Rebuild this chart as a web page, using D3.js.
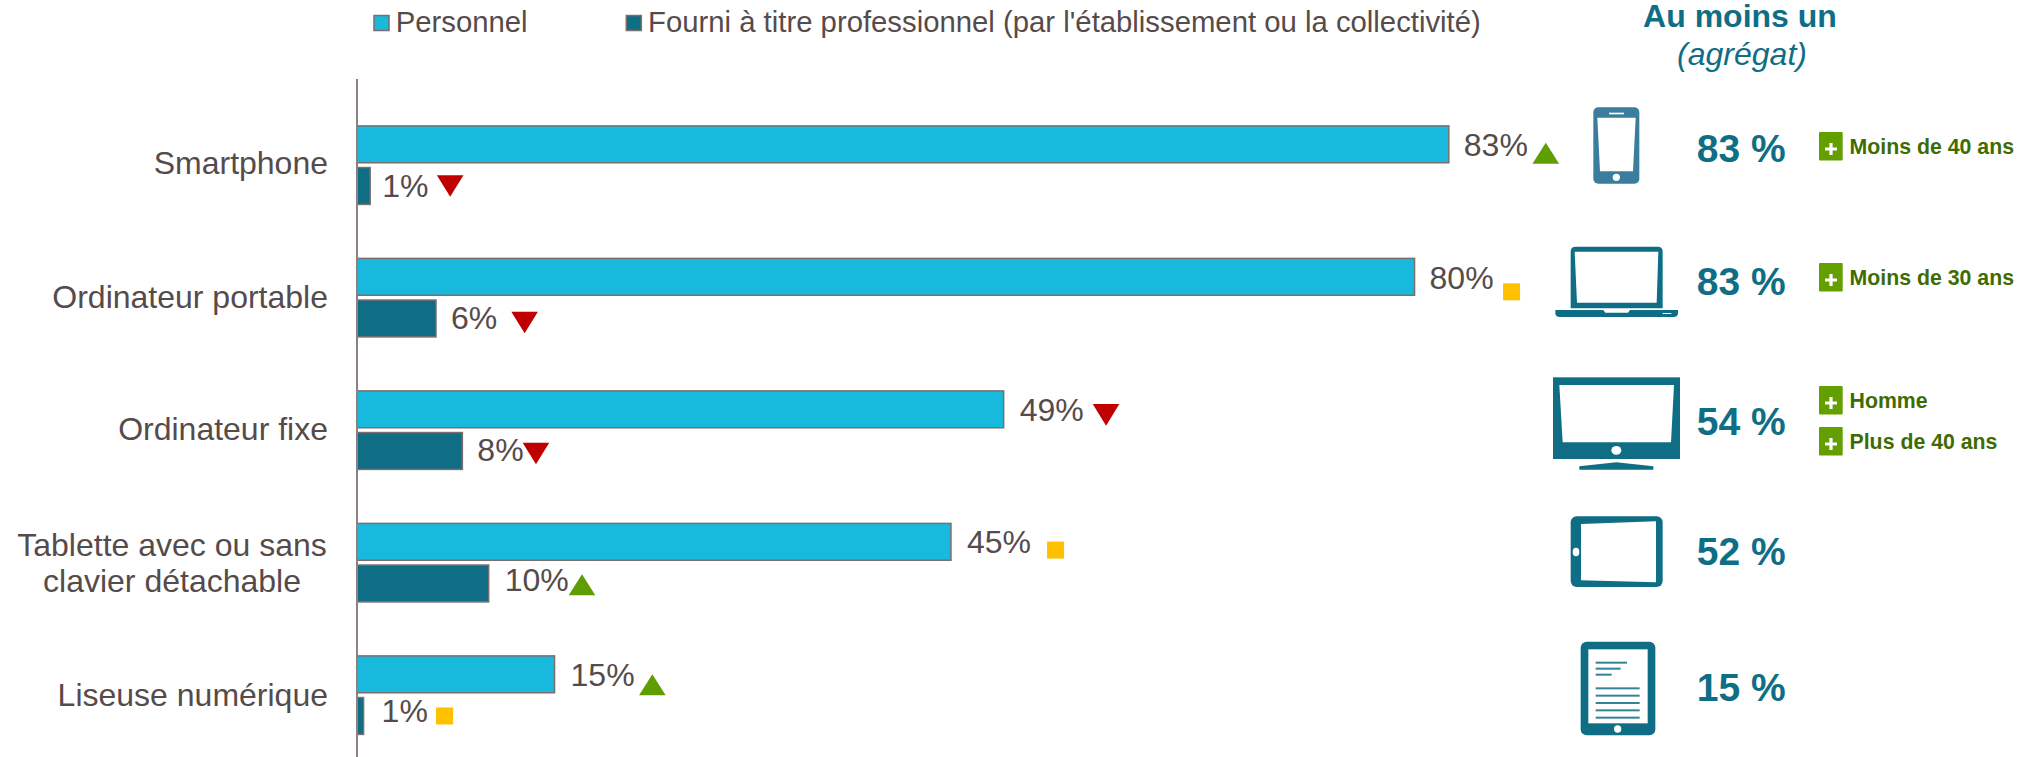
<!DOCTYPE html>
<html lang="fr">
<head>
<meta charset="utf-8">
<script src="https://cdn.jsdelivr.net/npm/d3@7"></script>
<style>
html,body{margin:0;padding:0;background:#fff}
svg{display:block}
text{font-family:"Liberation Sans",Arial,sans-serif}
</style>
</head>
<body>
<svg id="chart" width="2026" height="757"></svg>
<script>
// ---- data ----
const categories = ["Smartphone","Ordinateur portable","Ordinateur fixe","Tablette avec ou sans\nclavier détachable","Liseuse numérique"];
const seriesNames = ["Personnel","Fourni à titre professionnel (par l'établissement ou la collectivité)"];
const personalValues = [82.9,80.3,49.1,45.1,15];
const professionalValues = [1,6,8,10,0.5];
const personalLabels = ["83%","80%","49%","45%","15%"];
const professionalLabels = ["1%","6%","8%","10%","1%"];
const personalTrends = ["up","flat","down","flat","up"];
const professionalTrends = ["down","down","down","up","flat"];
const aggregateValues = ["83 %","83 %","54 %","52 %","15 %"];
const overRepresented = [["Moins de 40 ans"],["Moins de 30 ans"],["Homme","Plus de 40 ans"],[],[]];
const aggregateTitle = "Au moins un";
const aggregateSubtitle = "(agrégat)";

// ---- layout and styles, kept apart from the values ----
const C = {text:"#564B4B", light:"#17B9DC", dark:"#0F6E85", phone:"#3A7D9C", border:"#7A6E6E", axis:"#8C8080",
  up:"#5F9E00", down:"#C00000", flat:"#FFC000", tag:"#639F00", tagText:"#3F6C00"};
const layout = {
  personalMarkerDx:[97,97,102.4,104.6,97.8], personalMarkerDy:[9,15,5.5,8.25,10.5],
  professionalMarkerDx:[80,88.6,73.6,93.3,81], professionalMarkerDy:[0,4,2.5,1.25,0],
  personalLabelDx:[15,15,16,16,16], personalLabelDy:[12,12,11.5,11.25,11.5],
  professionalLabelDx:[12,15,15,16,18], professionalLabelDy:[11,11,10.5,7.25,6],
  categoryDy:[-2.5,-1.5,-2,0,-0.5],
  aggregateBaseline:[161.7,295,435,565,701],
  tagRows:[[{box:132,base:154}],[{box:263,base:285}],[{box:386,base:407.7},{box:427,base:449}],[],[]]
};

const svg = d3.select("#chart");

// ---- scales ----
const x = d3.scaleLinear().domain([0,100]).range([357,1674]);
const y = d3.scaleBand().domain(categories).range([99.4,761.9]);
const ySeries = d3.scaleBand().domain(["personal","professional"]).range([26.5,105]).paddingInner(0.115);

// ---- bars, labels, markers ----
function marker(sel, type, cx, cy){
  if(type==="up") sel.append("path").attr("d",`M${cx-13.3},${cy+10.5}L${cx},${cy-10.5}L${cx+13.3},${cy+10.5}Z`).attr("fill",C.up);
  else if(type==="down") sel.append("path").attr("d",`M${cx-13.3},${cy-10.8}L${cx+13.3},${cy-10.8}L${cx},${cy+10.8}Z`).attr("fill",C.down);
  else sel.append("rect").attr("x",cx-8.5).attr("y",cy-8.5).attr("width",17).attr("height",17).attr("fill",C.flat);
}
const series = [
  {key:"personal", values:personalValues, labels:personalLabels, trends:personalTrends, fill:C.light,
   mdx:layout.personalMarkerDx, mdy:layout.personalMarkerDy, ldx:layout.personalLabelDx, ldy:layout.personalLabelDy},
  {key:"professional", values:professionalValues, labels:professionalLabels, trends:professionalTrends, fill:C.dark,
   mdx:layout.professionalMarkerDx, mdy:layout.professionalMarkerDy, ldx:layout.professionalLabelDx, ldy:layout.professionalLabelDy}
];
const plot = svg.append("g");
series.forEach(s=>{
  categories.forEach((c,i)=>{
    const top = y(c)+ySeries(s.key), h = ySeries.bandwidth(), mid = top+h/2, end = x(s.values[i]);
    plot.append("rect").attr("x",x(0)).attr("y",top).attr("width",end-x(0)).attr("height",h)
      .attr("fill",s.fill).attr("stroke",C.border).attr("stroke-width",1.5);
    plot.append("text").attr("x",end+s.ldx[i]).attr("y",mid+s.ldy[i]).attr("font-size",32).attr("fill",C.text).text(s.labels[i]);
    marker(plot,s.trends[i],end+s.mdx[i],mid+s.mdy[i]);
  });
});

// ---- category axis ----
const axis = svg.append("g").attr("transform",`translate(${x(0)},0)`).call(d3.axisLeft(y).tickSize(0).tickPadding(29));
axis.select(".domain").remove();
axis.selectAll(".tick text").each(function(d,i){
  const t = d3.select(this), lines = d.split("\n"), dy = layout.categoryDy[i];
  t.text(null).attr("font-size",32).attr("fill",C.text).attr("font-family",'"Liberation Sans",Arial,sans-serif').attr("dy",null);
  if(lines.length===1){ t.attr("text-anchor","end").attr("x",-29).attr("y",11+dy); t.append("tspan").text(lines[0]); }
  else{ t.attr("text-anchor","middle").attr("x",172-x(0)).attr("y",-7+dy);
    lines.forEach((l,k)=>t.append("tspan").attr("x",172-x(0)).attr("dy",k?36:0).text(l)); }
});
svg.append("line").attr("x1",x(0)).attr("x2",x(0)).attr("y1",79).attr("y2",757).attr("stroke",C.axis).attr("stroke-width",2);

// ---- legend ----
const lg = svg.append("g");
[{bx:374,tx:395.7,fill:C.light,fs:29.3},{bx:626.3,tx:648,fill:C.dark,fs:29.3}].forEach((l,i)=>{
  lg.append("rect").attr("x",l.bx).attr("y",15.5).attr("width",15).attr("height",15).attr("fill",l.fill).attr("stroke",C.border).attr("stroke-width",1.5);
  lg.append("text").attr("x",l.tx).attr("y",31.7).attr("font-size",l.fs).attr("fill",C.text).text(seriesNames[i]);
});

// ---- aggregate column ----
svg.append("text").attr("x",1740).attr("y",27).attr("text-anchor","middle").attr("font-size",32).attr("font-weight","bold").attr("fill",C.dark).text(aggregateTitle);
svg.append("text").attr("x",1742).attr("y",64.5).attr("text-anchor","middle").attr("font-size",32).attr("font-style","italic").attr("fill",C.dark).text(aggregateSubtitle);
aggregateValues.forEach((v,i)=>{
  svg.append("text").attr("x",1696.7).attr("y",layout.aggregateBaseline[i]).attr("font-size",39).attr("font-weight","bold").attr("fill",C.dark).text(v);
});

// ---- over-represented tags ----
overRepresented.forEach((tags,i)=>{
  tags.forEach((t,k)=>{
    const r = layout.tagRows[i][k], g = svg.append("g");
    g.append("rect").attr("x",1819).attr("y",r.box).attr("width",23.7).attr("height",28.5).attr("rx",1).attr("fill",C.tag);
    g.append("path").attr("d","M1825,"+(r.box+17)+"h12M1831,"+(r.box+11)+"v12").attr("stroke","#fff").attr("stroke-width",3.2);
    g.append("text").attr("x",1849.5).attr("y",r.base).attr("font-size",21.3).attr("font-weight","bold").attr("fill",C.tagText).text(t);
  });
});

// ---- device pictograms, traced in a 3x local frame ----
const top3 = svg.append("g").attr("transform","translate(1500,0) scale(0.33333)");
const low3 = svg.append("g").attr("transform","translate(1500,370) scale(0.33333)");
// phone
top3.append("rect").attr("x",280).attr("y",322).attr("width",138).attr("height",229).attr("rx",15).attr("fill",C.phone);
top3.append("path").attr("d","M292,353H407L399,514H300Z").attr("fill","#fff");
top3.append("circle").attr("cx",349).attr("cy",532).attr("r",11).attr("fill","#fff");
top3.append("rect").attr("x",327).attr("y",338).attr("width",45).attr("height",5).attr("fill","#fff");
// laptop
top3.append("path").attr("d","M212,925V755Q212,740 227,740H473Q488,740 488,755V925Z").attr("fill",C.dark);
top3.append("path").attr("d","M224,755H475L470,908H231Z").attr("fill","#fff");
top3.append("path").attr("d","M166,930H534V940Q534,951 520,951H180Q166,951 166,940Z").attr("fill",C.dark);
top3.append("path").attr("d","M310,930H390L384,938H316Z").attr("fill","#fff");
top3.append("rect").attr("x",488).attr("y",939).attr("width",26).attr("height",3).attr("fill","#fff");
// monitor
low3.append("rect").attr("x",159).attr("y",22).attr("width",381).attr("height",245).attr("fill",C.dark);
low3.append("path").attr("d","M178,45H522L513,217H188Z").attr("fill","#fff");
low3.append("ellipse").attr("cx",349).attr("cy",241).attr("rx",15).attr("ry",13).attr("fill","#fff");
low3.append("path").attr("d","M238,289L349,277L460,289V299H238Z").attr("fill",C.dark);
// tablet
low3.append("rect").attr("x",212).attr("y",439).attr("width",276).attr("height",212).attr("rx",18).attr("fill",C.dark);
low3.append("path").attr("d","M243,462L468,454V637L243,631Z").attr("fill","#fff");
low3.append("ellipse").attr("cx",228).attr("cy",546).attr("rx",10).attr("ry",13).attr("fill","#fff");
// e-reader
low3.append("rect").attr("x",242).attr("y",815).attr("width",224).attr("height",281).attr("rx",18).attr("fill",C.dark);
low3.append("rect").attr("x",265).attr("y",838).attr("width",178).attr("height",222).attr("fill","#fff");
low3.append("circle").attr("cx",353).attr("cy",1077).attr("r",11).attr("fill","#fff");
[[878,381],[896,362],[914,335],[955,419],[977,419],[999,419],[1021,419],[1043,419]].forEach(([ly,xe])=>{
  low3.append("rect").attr("x",287).attr("y",ly-3).attr("width",xe-287).attr("height",6).attr("fill",C.dark).attr("opacity",0.85);
});
</script>
</body>
</html>
